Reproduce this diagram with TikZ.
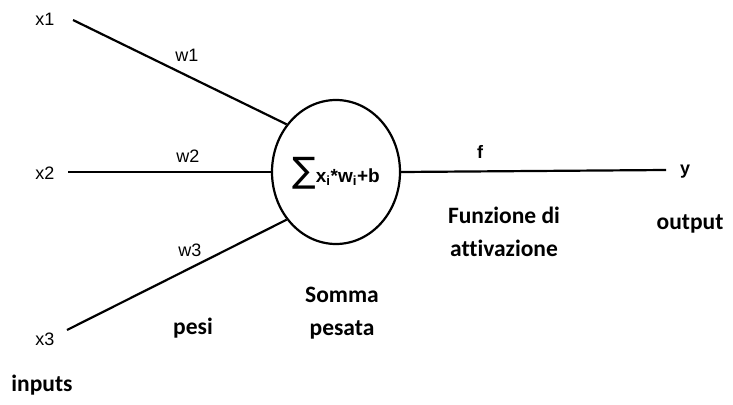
\documentclass[tikz,border=0pt]{standalone}
\usepackage{fontspec}
\setmainfont{Liberation Sans}
\newfontfamily\calib[Ligatures={NoCommon,NoRequired,NoContextual}]{Carlito}
\newfontfamily\symf{DejaVu Sans}
\usetikzlibrary{shapes.geometric}
\tikzset{
  wire/.style={line width=2.2pt},
  small/.style={font=\fontsize{18}{20}\selectfont, inner sep=0pt},
  big/.style={font=\calib\bfseries\fontsize{23.5}{33}\selectfont, inner sep=0pt, align=center},
}
\begin{document}
\begin{tikzpicture}[x=1pt,y=-1pt]
\useasboundingbox (0,0) rectangle (733,404);
\node[draw, line width=2.2pt, shape=ellipse, minimum width=128pt, minimum height=144pt, inner sep=0pt] (s) at (336,172) {};
\node[font=\bfseries\fontsize{19}{20}\selectfont, inner sep=0pt] (sum) at (336,173) {{\symf\fontsize{35}{35}\selectfont\mdseries ∑}x$_{\mathbf{i}}$*w$_{\mathbf{i}}$+b};
\node[small] (x1) at (45,19) {x1};
\node[small] (x2) at (45,173) {x2};
\node[small] (x3) at (45,339) {x3};
\node[small] (w1) at (187,55) {w1};
\node[small] (w2) at (188,156) {w2};
\node[small] (w3) at (190,250) {w3};
\node[small, font=\bfseries\fontsize{18}{20}\selectfont] (f) at (480,152) {f};
\node[small, font=\bfseries\fontsize{18}{20}\selectfont] (y) at (685,172) {y};
\coordinate (y0) at (666,170);
\draw[wire] (73,20) -- (s.136);
\draw[wire] (68,172) -- (s.west);
\draw[wire] (67,330) -- (s.224);
\draw[wire] (s.east) -- (y0);
\node[big] (fa) at (504,232) {Funzione di\\attivazione};
\node[big] (out) at (690,224) {output};
\node[big] (sp) at (342,313) {Somma\\pesata};
\node[big] (pesi) at (193,328) {pesi};
\node[big] (inp) at (42,385) {inputs};
\end{tikzpicture}
\end{document}
